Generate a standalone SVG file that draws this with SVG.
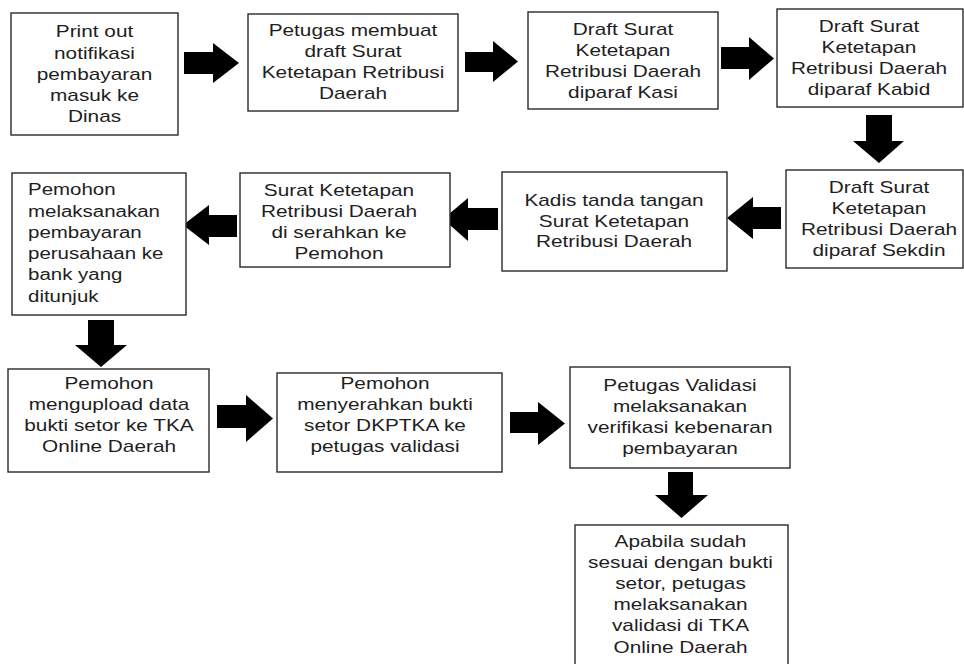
<svg xmlns="http://www.w3.org/2000/svg" width="964" height="664" viewBox="0 0 964 664">
<style>
.box{fill:#fff;stroke:#2a2a2a;stroke-width:1.4}
.t{font-family:"Liberation Sans",Arial,sans-serif;font-size:16px;fill:#1e1e1e;text-anchor:middle}
.tl{font-family:"Liberation Sans",Arial,sans-serif;font-size:16px;fill:#1e1e1e;text-anchor:start}
.arr{fill:#000}
</style>
<rect width="964" height="664" fill="#fff"/>
<g id="connectors">
<polygon class="arr" points="184,52 213,52 213,43 239,63 213,83 213,74 184,74"/>
<polygon class="arr" points="465,52 493,52 493,41 518,61.5 493,82 493,72 465,72"/>
<polygon class="arr" points="721,47 749,47 749,37 774,58.5 749,80 749,69 721,69"/>
<polygon class="arr" points="866,115 892,115 892,141 904,141 879,163 853,141 866,141"/>
<polygon class="arr" points="781,207 753,207 753,197 727,218 753,239 753,229 781,229"/>
<polygon class="arr" points="498,208 468,208 468,198 443,219 468,241 468,230 498,230"/>
<polygon class="arr" points="237,215 209,215 209,205 183,225 209,245 209,237 237,237"/>
<polygon class="arr" points="88,320 114,320 114,345 127,345 101,367 75,345 88,345"/>
<polygon class="arr" points="217,405 246,405 246,395 273,418.5 246,442 246,428 217,428"/>
<polygon class="arr" points="510,412 538,412 538,402 565,423.5 538,445 538,433 510,433"/>
<polygon class="arr" points="668,472 693,472 693,495 708,495 681.5,518 655,495 668,495"/>
</g>
<g id="n1">
<rect class="box" x="11" y="13" width="167" height="122"/>
<text class="t" transform="translate(94.5,0) scale(1.3,1)"><tspan x="0" y="37.5">Print out</tspan><tspan x="0" y="58.6">notifikasi</tspan><tspan x="0" y="79.8">pembayaran</tspan><tspan x="0" y="100.9">masuk ke</tspan><tspan x="0" y="122">Dinas</tspan></text>
</g>
<g id="n2">
<rect class="box" x="248" y="14" width="210" height="97"/>
<text class="t" transform="translate(353,0) scale(1.3,1)"><tspan x="0" y="36">Petugas membuat</tspan><tspan x="0" y="57">draft Surat</tspan><tspan x="0" y="78">Ketetapan Retribusi</tspan><tspan x="0" y="99">Daerah</tspan></text>
</g>
<g id="n3">
<rect class="box" x="528" y="12" width="190" height="97"/>
<text class="t" transform="translate(623,0) scale(1.3,1)"><tspan x="0" y="35">Draft Surat</tspan><tspan x="0" y="56">Ketetapan</tspan><tspan x="0" y="77">Retribusi Daerah</tspan><tspan x="0" y="98">diparaf Kasi</tspan></text>
</g>
<g id="n4">
<rect class="box" x="777" y="9" width="186" height="98"/>
<text class="t" transform="translate(869,0) scale(1.3,1)"><tspan x="0" y="32">Draft Surat</tspan><tspan x="0" y="53">Ketetapan</tspan><tspan x="0" y="74">Retribusi Daerah</tspan><tspan x="0" y="95">diparaf Kabid</tspan></text>
</g>
<g id="n5">
<rect class="box" x="786" y="170" width="177" height="98"/>
<text class="t" transform="translate(879,0) scale(1.3,1)"><tspan x="0" y="193">Draft Surat</tspan><tspan x="0" y="214">Ketetapan</tspan><tspan x="0" y="235">Retribusi Daerah</tspan><tspan x="0" y="256">diparaf Sekdin</tspan></text>
</g>
<g id="n6">
<rect class="box" x="502" y="172" width="225" height="99"/>
<text class="t" transform="translate(614,0) scale(1.3,1)"><tspan x="0" y="206">Kadis tanda tangan</tspan><tspan x="0" y="227">Surat Ketetapan</tspan><tspan x="0" y="247">Retribusi Daerah</tspan></text>
</g>
<g id="n7">
<rect class="box" x="240" y="173" width="210" height="94"/>
<text class="t" transform="translate(339,0) scale(1.3,1)"><tspan x="0" y="196.5">Surat Ketetapan</tspan><tspan x="0" y="217.5">Retribusi Daerah</tspan><tspan x="0" y="238.5">di serahkan ke</tspan><tspan x="0" y="259.5">Pemohon</tspan></text>
</g>
<g id="n8">
<rect class="box" x="12" y="173" width="174" height="142"/>
<text class="tl" transform="translate(28,0) scale(1.28,1)"><tspan x="0" y="195.5">Pemohon</tspan><tspan x="0" y="216.8">melaksanakan</tspan><tspan x="0" y="238">pembayaran</tspan><tspan x="0" y="259.3">perusahaan ke</tspan><tspan x="0" y="280.5">bank yang</tspan><tspan x="0" y="301.8">ditunjuk</tspan></text>
</g>
<g id="n9">
<rect class="box" x="8" y="369" width="201" height="103"/>
<text class="t" transform="translate(109,0) scale(1.3,1)"><tspan x="0" y="389">Pemohon</tspan><tspan x="0" y="410">mengupload data</tspan><tspan x="0" y="431">bukti setor ke TKA</tspan><tspan x="0" y="452">Online Daerah</tspan></text>
</g>
<g id="n10">
<rect class="box" x="277" y="373" width="225" height="99"/>
<text class="t" transform="translate(385,0) scale(1.3,1)"><tspan x="0" y="389">Pemohon</tspan><tspan x="0" y="410">menyerahkan bukti</tspan><tspan x="0" y="431">setor DKPTKA ke</tspan><tspan x="0" y="452">petugas validasi</tspan></text>
</g>
<g id="n11">
<rect class="box" x="570" y="367" width="220" height="101"/>
<text class="t" transform="translate(680,0) scale(1.3,1)"><tspan x="0" y="391">Petugas Validasi</tspan><tspan x="0" y="412">melaksanakan</tspan><tspan x="0" y="433">verifikasi kebenaran</tspan><tspan x="0" y="454">pembayaran</tspan></text>
</g>
<g id="n12">
<rect class="box" x="575" y="525" width="213" height="150"/>
<text class="t" transform="translate(680.5,0) scale(1.3,1)"><tspan x="0" y="547">Apabila sudah</tspan><tspan x="0" y="568.1">sesuai dengan bukti</tspan><tspan x="0" y="589.3">setor, petugas</tspan><tspan x="0" y="610.4">melaksanakan</tspan><tspan x="0" y="631.5">validasi di TKA</tspan><tspan x="0" y="652.6">Online Daerah</tspan></text>
</g>
</svg>
